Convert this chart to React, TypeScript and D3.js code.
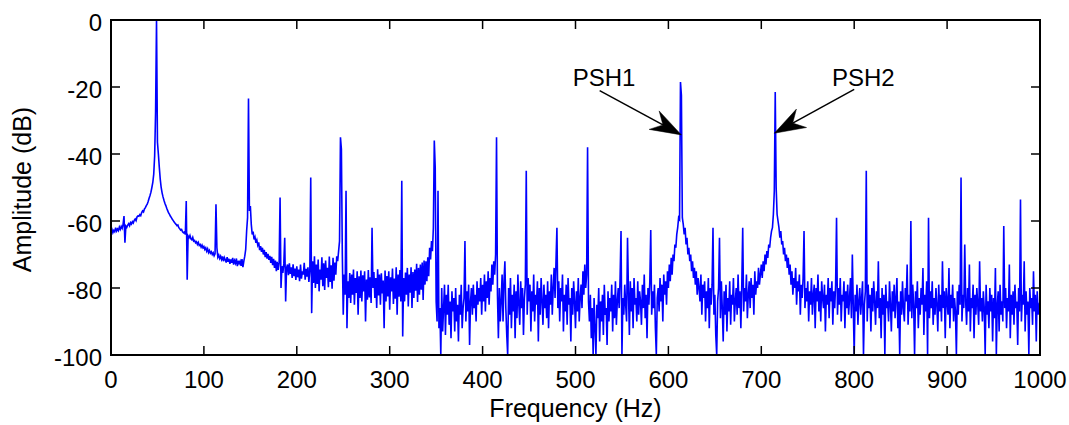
import React from 'react';
import * as d3 from 'd3';

// Spectrum amplitude (dB), one value per 1 Hz bin
const band000 = [
  -63, -62.5, -63.5, -62.8, -63.2, -62, -63, -62.4, -62.9, -61.8,
  -62.5, -61.6, -62.2, -61, -58.5, -66.5, -61.5, -61.9, -61.2, -60.8,
  -61.4, -60.5, -60.9, -60.2, -60.6, -59.8, -59.4, -59.9, -58.8, -58.5,
  -58.6, -58.1, -58.4, -57.5, -57, -57.3, -56.4, -56, -55.4, -55,
  -54.2, -53.2, -52.4, -51.4, -50, -48.5, -46, -40.5, -27.5, 0,
  -36.5, -40, -44, -47.5, -50, -51.6, -52.8, -53.8, -54.7, -55.4,
  -56.2, -56.9, -57.6, -58, -58.6, -59, -59.5, -59.9, -60.3, -60.7,
  -61, -61.4, -61.2, -62, -62.3, -62.7, -62.5, -63.2, -63.5, -63.3,
  -64, -54, -77.5, -64.5, -65, -64.3, -65.3, -65.6, -64.9, -66,
  -65.8, -66.5, -66.2, -67, -66.4, -67.3, -67, -67.8, -67.2, -68,
];
const band100 = [
  -67.6, -68.5, -68, -69, -68.3, -69.4, -68.8, -69.6, -69.2, -70,
  -69.5, -70.4, -69.8, -55, -68, -70.8, -70.2, -71.2, -70.5, -71.5,
  -70.6, -72, -70.9, -71.6, -72.4, -70.8, -72.2, -71.3, -72.8, -71.5,
  -72.5, -71, -73, -71.8, -72.6, -71.2, -73.5, -71.9, -72.7, -72,
  -73.4, -71.4, -73.8, -72, -70.5, -68.5, -63, -59, -23.4, -57,
  -55.5, -61, -64, -63.2, -65.5, -64.8, -66.5, -65.7, -67.2, -66.4,
  -68.7, -67.5, -69.2, -68, -70, -68.6, -70.8, -69.3, -71.2, -69.8,
  -71.6, -70.4, -72.5, -70.7, -73.2, -71.3, -74, -71.8, -75, -72.2,
  -74.6, -72.5, -53, -80, -73.5, -75.5, -72.8, -65, -84, -74,
  -73, -76.2, -72.6, -75.8, -73.8, -77, -72.9, -76.5, -74.2, -77.6,
];
const band200 = [
  -73.5, -76.8, -74.5, -78, -73, -77.2, -75, -76, -72.5, -77.5,
  -74.3, -76.6, -73.8, -78.2, -75, -47, -87.5, -72, -78.5, -70.5,
  -80, -73, -78.8, -71.5, -81, -74.5, -77.5, -70.8, -79.5, -72.6,
  -80.6, -71.8, -77, -74, -79.8, -70.6, -78.2, -73.2, -80.2, -71,
  -77.8, -72.4, -76, -70.5, -72, -69, -66, -35, -38.5, -70,
  -88, -76, -82, -51, -92, -78, -83, -75.5, -84.5, -76,
  -82, -74.5, -85, -77, -81.5, -75, -88, -76.5, -83, -74.8,
  -84, -76.2, -81, -75, -90, -77.5, -83.5, -74.6, -82.8, -76.8,
  -84.5, -62, -80, -75.2, -83, -77, -86, -74.4, -82.2, -76,
  -85, -75.6, -81.6, -77.8, -92, -74.8, -84, -76.4, -82.5, -75,
];
const band300 = [
  -86.5, -76.8, -81, -74.2, -84.8, -77.2, -83.2, -73.8, -88, -76,
  -82.6, -74.6, -84, -48, -94.5, -77, -84, -75.4, -82, -74,
  -85.5, -76, -81.4, -73.8, -86, -75.2, -83, -74.5, -80.8, -72.8,
  -84.2, -74, -82, -73, -80.5, -72.4, -83.6, -71.8, -79, -72,
  -78, -70.8, -76.5, -68, -71.5, -66, -69, -62, -36, -44,
  -84, -90, -51, -92, -86, -100, -80, -93, -86, -79,
  -94, -82, -88, -79, -91, -84, -95, -81, -87, -83,
  -93, -80, -90, -85, -96, -82, -88, -79, -92, -86,
  -83, -66, -90, -81, -87, -79, -97, -84, -80, -88,
  -79, -86, -82, -90, -78, -85, -80, -84, -77, -88,
];
const band400 = [
  -79, -84, -76, -87, -78, -83, -75, -85, -77, -81,
  -73, -79, -72, -76, -70, -35, -82, -95, -80, -90,
  -84, -76, -90, -78, -72, -86, -94, -100, -80, -88,
  -77, -92, -82, -87, -79, -95, -81, -89, -76, -85,
  -91, -78, -86, -80, -94, -83, -79, -45, -88, -77,
  -84, -79, -93, -81, -87, -76, -90, -82, -85, -78,
  -96, -80, -88, -77, -84, -91, -79, -86, -82, -89,
  -78, -92, -81, -85, -76, -88, -80, -74, -83, -72,
  -62, -86, -78, -90, -80, -84, -76, -93, -82, -87,
  -79, -91, -77, -85, -83, -96, -80, -88, -78, -84,
];
const band500 = [
  -92, -81, -87, -77, -90, -83, -79, -86, -75, -82,
  -73, -80, -76, -38, -84, -90, -82, -95, -86, -100,
  -83, -92, -100, -85, -89, -80, -96, -84, -90, -82,
  -94, -79, -88, -86, -97, -81, -90, -83, -87, -79,
  -93, -82, -89, -78, -91, -84, -80, -86, -77, -63,
  -100, -83, -88, -79, -85, -90, -65, -81, -94, -78,
  -87, -80, -92, -77, -85, -83, -90, -78, -88, -81,
  -84, -91, -79, -86, -76, -89, -82, -95, -80, -85,
  -78, -62.7, -88, -81, -86, -79, -92, -100, -83, -80,
  -87, -77, -84, -79, -90, -76, -82, -78, -85, -75,
];
const band600 = [
  -80, -73, -78, -71, -76, -70, -72, -67, -68, -64,
  -62, -59, -59.5, -18.5, -22.5, -59, -61, -64, -62, -67,
  -65, -70, -68, -72, -70, -75, -72, -77, -74, -79,
  -75, -82, -77, -80, -84, -76, -88, -79, -83, -78,
  -90, -81, -86, -77, -92, -80, -85, -79, -62, -88,
  -82, -94, -100, -84, -80, -65, -89, -78, -86, -96,
  -81, -88, -79, -93, -83, -87, -78, -91, -82, -85,
  -77, -90, -84, -80, -88, -76, -86, -81, -92, -79,
  -62, -87, -80, -84, -76, -89, -82, -78, -86, -77,
  -83, -79, -88, -75, -82, -78, -80, -74, -79, -76,
];
const band700 = [
  -73, -77, -72, -75, -70, -73, -69, -71, -67, -68,
  -65, -63, -62, -58, -51, -21.5, -50, -58, -60, -62,
  -65, -63, -67, -66, -70, -68, -72, -70, -74, -71,
  -76, -73, -79, -75, -82, -77, -80, -74, -85, -78,
  -81, -76, -88, -79, -83, -77, -63, -86, -80, -84,
  -78, -90, -81, -85, -77, -88, -82, -79, -92, -80,
  -84, -76, -87, -81, -90, -78, -83, -86, -79, -93,
  -82, -85, -77, -89, -80, -84, -78, -91, -81, -86,
  -79, -59, -88, -80, -85, -77, -90, -82, -84, -78,
  -92, -81, -86, -79, -88, -83, -77, -89, -70, -85,
];
const band800 = [
  -100, -82, -87, -79, -91, -84, -80, -88, -83, -78,
  -100, -85, -81, -45, -90, -79, -86, -82, -93, -80,
  -87, -78, -84, -91, -81, -86, -72, -89, -83, -95,
  -80, -88, -82, -100, -79, -86, -84, -90, -78, -85,
  -93, -81, -87, -79, -89, -83, -77, -92, -84, -100,
  -81, -88, -78, -86, -90, -80, -84, -73, -91, -82,
  -87, -60, -89, -79, -85, -100, -81, -86, -78, -92,
  -83, -88, -80, -85, -74, -94, -82, -87, -78, -100,
  -59, -89, -81, -86, -78, -91, -83, -88, -80, -85,
  -93, -79, -87, -82, -90, -72, -86, -81, -95, -80,
];
const band900 = [
  -84, -88, -74, -92, -82, -86, -79, -90, -83, -87,
  -100, -81, -88, -79, -85, -47, -90, -82, -86, -67,
  -84, -91, -80, -87, -73, -93, -83, -86, -79, -95,
  -82, -88, -80, -85, -91, -72, -87, -83, -90, -81,
  -86, -100, -79, -88, -84, -92, -80, -87, -82, -96,
  -83, -89, -74, -100, -85, -81, -93, -79, -88, -84,
  -90, -61.5, -86, -80, -92, -83, -87, -73, -95, -82,
  -88, -81, -91, -79, -86, -84, -97, -80, -87, -53.6,
  -90, -82, -85, -72, -93, -81, -88, -84, -100, -80,
  -86, -83, -91, -75, -87, -82, -96, -81, -88, -85,
  -84,
];

const spectrumDb = [
  ...band000, ...band100, ...band200, ...band300, ...band400,
  ...band500, ...band600, ...band700, ...band800, ...band900,
];
const binWidthHz = 1;

const xTicks = [0, 100, 200, 300, 400, 500, 600, 700, 800, 900, 1000];
const yTicks = [-100, -80, -60, -40, -20, 0];

const annotationLabels = ['PSH1', 'PSH2'];
const annotationTextHz = [497, 776];
const annotationTextDb = [-19.7, -19.7];
const annotationTailHz = [526, 800];
const annotationTailDb = [-21.1, -20.7];
const annotationTipHz = [614, 714];
const annotationTipDb = [-34.3, -33.8];

const W = 1069;
const H = 425;
const M = { left: 111, right: 29, top: 20, bottom: 70 };
const FONT = '"Liberation Sans", Arial, Helvetica, sans-serif';

export default function App() {
  const x = d3.scaleLinear().domain([0, 1000]).range([M.left, W - M.right]);
  const y = d3.scaleLinear().domain([-100, 0]).range([H - M.bottom, M.top]);
  const x0 = M.left, x1 = W - M.right, y0 = M.top, y1 = H - M.bottom;

  const pts: [number, number][] = spectrumDb.map((v, i) => [i * binWidthHz, v]);
  const line = d3
    .line<[number, number]>()
    .x((d) => x(d[0]))
    .y((d) => y(d[1]));

  const tickLen = 9;

  const arrows = annotationLabels.map((lab, i) => {
    const tx = x(annotationTailHz[i]);
    const ty = y(annotationTailDb[i]);
    const px = x(annotationTipHz[i]);
    const py = y(annotationTipDb[i]);
    const dx = px - tx, dy = py - ty;
    const len = Math.hypot(dx, dy);
    const ux = dx / len, uy = dy / len;
    const nx = -uy, ny = ux;
    const L = 31, hw = 10.5, notch = 21;
    const bx = px - L * ux, by = py - L * uy;
    const head = [
      [px, py],
      [bx + hw * nx, by + hw * ny],
      [px - notch * ux, py - notch * uy],
      [bx - hw * nx, by - hw * ny],
    ];
    return {
      lab,
      textX: x(annotationTextHz[i]),
      textY: y(annotationTextDb[i]),
      tx, ty,
      sx: px - notch * ux, sy: py - notch * uy,
      head: head.map((p) => p.join(',')).join(' '),
    };
  });

  return (
    <svg
      width={W}
      height={H}
      style={{ position: 'fixed', left: 0, top: 0, background: '#fff' }}
      fontFamily={FONT}
    >
      <rect x={0} y={0} width={W} height={H} fill="#fff" />
      <defs>
        <clipPath id="plotclip">
          <rect x={x0} y={y0 - 1} width={x1 - x0} height={y1 - y0 + 2} />
        </clipPath>
      </defs>
      <path
        d={line(pts) || ''}
        fill="none"
        stroke="#0000ff"
        strokeWidth={1.6}
        strokeLinejoin="miter"
        clipPath="url(#plotclip)"
      />
      {/* box */}
      <rect x={x0} y={y0} width={x1 - x0} height={y1 - y0} fill="none" stroke="#000" strokeWidth={2} />
      {xTicks.map((t) => (
        <g key={'xt' + t}>
          <line x1={x(t)} x2={x(t)} y1={y1} y2={y1 - tickLen} stroke="#000" strokeWidth={1.5} />
          <line x1={x(t)} x2={x(t)} y1={y0} y2={y0 + tickLen} stroke="#000" strokeWidth={1.5} />
          <text x={x(t)} y={388} textAnchor="middle" fontSize={24} fill="#000">
            {t}
          </text>
        </g>
      ))}
      {yTicks.map((t) => (
        <g key={'yt' + t}>
          <line x1={x0} x2={x0 + tickLen} y1={y(t)} y2={y(t)} stroke="#000" strokeWidth={1.5} />
          <line x1={x1} x2={x1 - tickLen} y1={y(t)} y2={y(t)} stroke="#000" strokeWidth={1.5} />
          <text x={102} y={y(t) + 11} textAnchor="end" fontSize={24} fill="#000">
            {t}
          </text>
        </g>
      ))}
      <text x={(x0 + x1) / 2} y={417} textAnchor="middle" fontSize={25} fill="#000">
        Frequency (Hz)
      </text>
      <text
        transform={`translate(31,${(y0 + y1) / 2 + 2}) rotate(-90)`}
        textAnchor="middle"
        fontSize={25}
        fill="#000"
      >
        Amplitude (dB)
      </text>
      {arrows.map((a) => (
        <g key={a.lab}>
          <text x={a.textX} y={a.textY} fontSize={24} fill="#000">
            {a.lab}
          </text>
          <line x1={a.tx} y1={a.ty} x2={a.sx} y2={a.sy} stroke="#000" strokeWidth={1.5} />
          <polygon points={a.head} fill="#000" stroke="#000" strokeWidth={0.5} />
        </g>
      ))}
    </svg>
  );
}
